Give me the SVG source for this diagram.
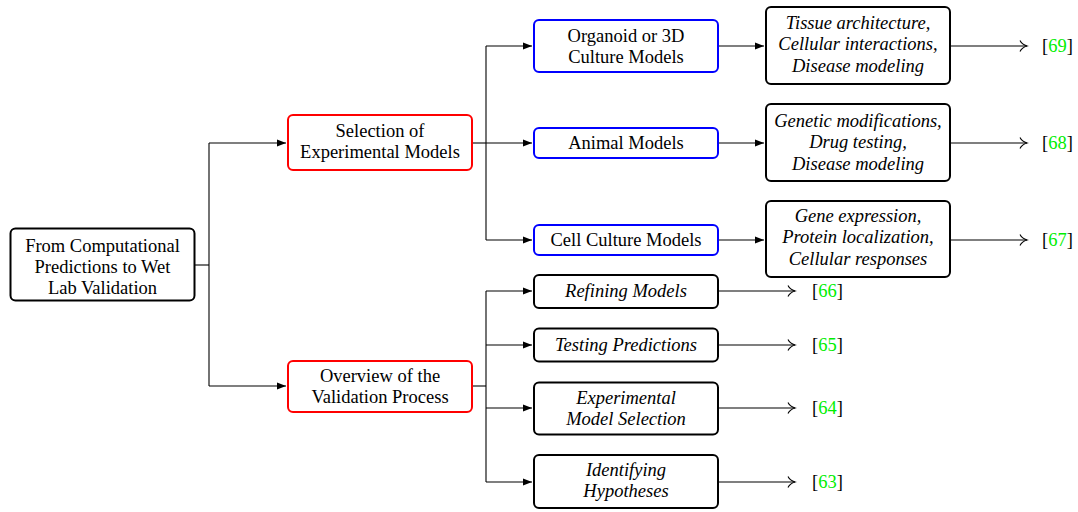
<svg xmlns="http://www.w3.org/2000/svg" width="1078" height="512" viewBox="0 0 1078 512">
<style>
  .box{fill:#fff;stroke:#000;stroke-width:2}
  .red{fill:#fff;stroke:#ff0000;stroke-width:2}
  .blue{fill:#fff;stroke:#0000ff;stroke-width:2}
  text{font-family:"Liberation Serif","Times New Roman",serif;font-size:18.5px;fill:#000;text-anchor:middle}
  .it{font-style:italic}
  .ref{text-anchor:start}
  .g{fill:#00ee00}
  .c{fill:none;stroke:#000;stroke-width:1.1}
  .cf{fill:none;stroke:#000;stroke-width:1.1;marker-end:url(#fa)}
  .co{fill:none;stroke:#000;stroke-width:1.1;marker-end:url(#oa)}
</style>
<defs>
  <marker id="fa" markerUnits="userSpaceOnUse" markerWidth="10" markerHeight="8" refX="9" refY="4" orient="auto">
    <path d="M0,0.5 L9,4 L0,7.5 z" fill="#000"/>
  </marker>
  <marker id="oa" markerUnits="userSpaceOnUse" markerWidth="12" markerHeight="14" refX="9" refY="7" orient="auto" overflow="visible">
    <path d="M2,1.5 Q4,5.5 9,7 Q4,8.5 2,12.5" fill="none" stroke="#000" stroke-width="1.1"/>
  </marker>
</defs>
<g id="connectors">
  <path class="c" d="M194,265 H209"/>
  <path class="c" d="M209,143 V386"/>
  <path class="cf" d="M209,143 H286"/>
  <path class="cf" d="M209,386 H286"/>
  <path class="c" d="M472,143 H486"/>
  <path class="c" d="M486,46 V240"/>
  <path class="cf" d="M486,46 H532"/>
  <path class="cf" d="M486,143 H532"/>
  <path class="cf" d="M486,240 H532"/>
  <path class="cf" d="M718,46 H764"/>
  <path class="cf" d="M718,143 H764"/>
  <path class="cf" d="M718,240 H764"/>
  <path class="co" d="M950,46 H1027"/>
  <path class="co" d="M950,143 H1027"/>
  <path class="co" d="M950,240 H1027"/>
  <path class="c" d="M472,386 H486"/>
  <path class="c" d="M486,291 V482"/>
  <path class="cf" d="M486,291 H532"/>
  <path class="cf" d="M486,345 H532"/>
  <path class="cf" d="M486,408 H532"/>
  <path class="cf" d="M486,482 H532"/>
  <path class="co" d="M718,291 H795"/>
  <path class="co" d="M718,345 H795"/>
  <path class="co" d="M718,408 H795"/>
  <path class="co" d="M718,482 H795"/>
</g>
<g id="root">
  <rect class="box" x="10.5" y="228.5" width="184" height="72" rx="5"/>
  <text x="102.5" y="252">From Computational</text>
  <text x="102.5" y="273">Predictions to Wet</text>
  <text x="102.5" y="294">Lab Validation</text>
</g>
<g id="selection">
  <rect class="red" x="288" y="115" width="184" height="55" rx="5"/>
  <text x="380" y="137">Selection of</text>
  <text x="380" y="158">Experimental Models</text>
</g>
<g id="overview">
  <rect class="red" x="288" y="361" width="184" height="51" rx="5"/>
  <text x="380" y="382">Overview of the</text>
  <text x="380" y="403">Validation Process</text>
</g>
<g id="organoid">
  <rect class="blue" x="534" y="20" width="184" height="52" rx="5"/>
  <text x="626" y="42">Organoid or 3D</text>
  <text x="626" y="63">Culture Models</text>
</g>
<g id="animal">
  <rect class="blue" x="534" y="128" width="184" height="30" rx="5"/>
  <text x="626" y="149">Animal Models</text>
</g>
<g id="cellculture">
  <rect class="blue" x="534" y="225" width="184" height="30" rx="5"/>
  <text x="626" y="246">Cell Culture Models</text>
</g>
<g id="tissue">
  <rect class="box" x="766" y="7" width="184" height="77" rx="5"/>
  <text class="it" x="858" y="29">Tissue architecture,</text>
  <text class="it" x="858" y="50">Cellular interactions,</text>
  <text class="it" x="858" y="72">Disease modeling</text>
</g>
<g id="genetic">
  <rect class="box" x="766" y="104" width="184" height="77" rx="5"/>
  <text class="it" x="858" y="127">Genetic modifications,</text>
  <text class="it" x="858" y="148">Drug testing,</text>
  <text class="it" x="858" y="170">Disease modeling</text>
</g>
<g id="gene">
  <rect class="box" x="766" y="201" width="184" height="76" rx="5"/>
  <text class="it" x="858" y="222">Gene expression,</text>
  <text class="it" x="858" y="243">Protein localization,</text>
  <text class="it" x="858" y="265">Cellular responses</text>
</g>
<g id="refining">
  <rect class="box" x="534" y="275" width="184" height="33" rx="5"/>
  <text class="it" x="626" y="297">Refining Models</text>
</g>
<g id="testing">
  <rect class="box" x="534" y="328.5" width="184" height="33" rx="5"/>
  <text class="it" x="626" y="351">Testing Predictions</text>
</g>
<g id="expsel">
  <rect class="box" x="534" y="382.5" width="184" height="52" rx="5"/>
  <text class="it" x="626" y="404">Experimental</text>
  <text class="it" x="626" y="425">Model Selection</text>
</g>
<g id="identifying">
  <rect class="box" x="534" y="455" width="184" height="53" rx="5"/>
  <text class="it" x="626" y="476">Identifying</text>
  <text class="it" x="626" y="497">Hypotheses</text>
</g>
<g id="refs">
  <text class="ref" x="1042" y="52">[<tspan class="g">69</tspan>]</text>
  <text class="ref" x="1042" y="149">[<tspan class="g">68</tspan>]</text>
  <text class="ref" x="1042" y="246">[<tspan class="g">67</tspan>]</text>
  <text class="ref" x="812" y="297">[<tspan class="g">66</tspan>]</text>
  <text class="ref" x="812" y="351">[<tspan class="g">65</tspan>]</text>
  <text class="ref" x="812" y="414">[<tspan class="g">64</tspan>]</text>
  <text class="ref" x="812" y="488">[<tspan class="g">63</tspan>]</text>
</g>
</svg>
